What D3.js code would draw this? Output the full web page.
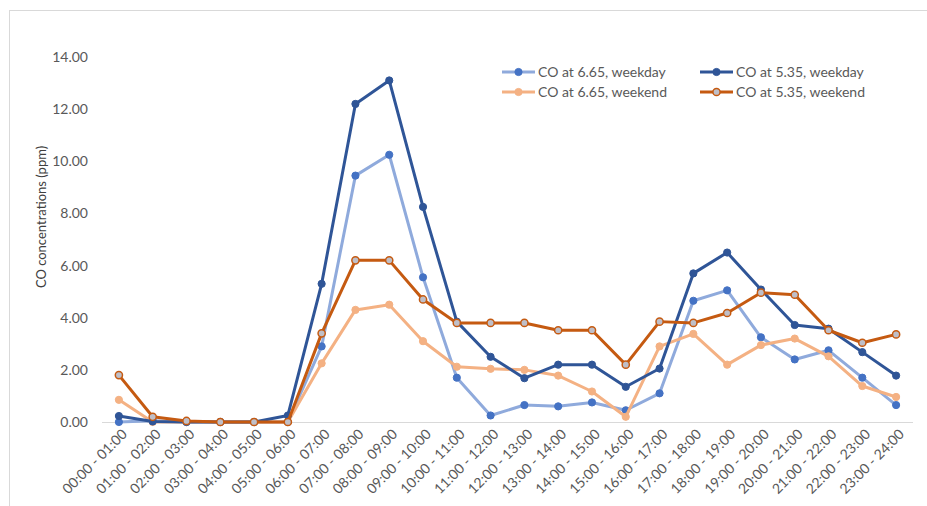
<!DOCTYPE html>
<html>
<head>
<meta charset="utf-8">
<script src="https://cdn.jsdelivr.net/npm/d3@7"></script>
<style>
  html, body { margin: 0; padding: 0; background: #fff; }
  svg { display: block; font-family: Lato, "Open Sans", sans-serif; }
</style>
</head>
<body>
<svg id="chart" width="927" height="506"></svg>
<script>
const categories = ["00:00 - 01:00","01:00 - 02:00","02:00 - 03:00","03:00 - 04:00","04:00 - 05:00","05:00 - 06:00",
  "06:00 - 07:00","07:00 - 08:00","08:00 - 09:00","09:00 - 10:00","10:00 - 11:00","11:00 - 12:00",
  "12:00 - 13:00","13:00 - 14:00","14:00 - 15:00","15:00 - 16:00","16:00 - 17:00","17:00 - 18:00",
  "18:00 - 19:00","19:00 - 20:00","20:00 - 21:00","21:00 - 22:00","22:00 - 23:00","23:00 - 24:00"];

const weekday665 = [0.0, 0.05, 0.0, 0.0, 0.0, 0.0, 2.9, 9.45, 10.25, 5.55, 1.7, 0.25, 0.65, 0.6, 0.75, 0.45, 1.1, 4.65, 5.05, 3.25, 2.4, 2.75, 1.7, 0.65];
const weekday535 = [0.23, 0.02, 0.0, 0.0, 0.0, 0.25, 5.3, 12.2, 13.1, 8.25, 3.85, 2.5, 1.68, 2.2, 2.2, 1.35, 2.05, 5.7, 6.5, 5.08, 3.72, 3.58, 2.68, 1.78];
const weekend665 = [0.85, 0.0, 0.0, 0.0, 0.0, 0.0, 2.25, 4.3, 4.5, 3.1, 2.12, 2.04, 2.0, 1.78, 1.17, 0.2, 2.9, 3.38, 2.2, 2.95, 3.2, 2.52, 1.38, 0.96];
const weekend535 = [1.8, 0.2, 0.04, 0.0, 0.0, 0.0, 3.4, 6.2, 6.2, 4.7, 3.8, 3.8, 3.8, 3.52, 3.52, 2.2, 3.85, 3.8, 4.18, 4.96, 4.88, 3.52, 3.04, 3.36];

const yTicks = [0, 2, 4, 6, 8, 10, 12, 14];
const seriesNames = ["CO at 6.65, weekday", "CO at 5.35, weekday", "CO at 6.65, weekend", "CO at 5.35, weekend"];

const series = [
  { name: seriesNames[0], values: weekday665, line: "#8faadc", fill: "#4472c4", stroke: "#4472c4", width: 3 },
  { name: seriesNames[1], values: weekday535, line: "#2f5597", fill: "#2f5597", stroke: "#2f5597", width: 3 },
  { name: seriesNames[2], values: weekend665, line: "#f4b183", fill: "#f4b183", stroke: "#f4b183", width: 3 },
  { name: seriesNames[3], values: weekend535, line: "#c55a11", fill: "#bfbfc8", stroke: "#c55a11", width: 3 }
];
const drawOrder = [0, 2, 1, 3];

const svg = d3.select("#chart");

// frame
svg.append("line").attr("x1", 9.5).attr("x2", 9.5).attr("y1", 10).attr("y2", 506).attr("stroke", "#d9d9d9").attr("stroke-width", 1);
svg.append("line").attr("x1", 9).attr("x2", 927).attr("y1", 10.5).attr("y2", 10.5).attr("stroke", "#d9d9d9").attr("stroke-width", 1);

const x = d3.scaleBand().domain(categories).range([102, 913]);
const y = d3.scaleLinear().domain([0, 14]).range([422, 57]);
const cx = d => x(d) + x.bandwidth() / 2;

// baseline
svg.append("line").attr("x1", 102).attr("x2", 913).attr("y1", y(0) + 0.5).attr("y2", y(0) + 0.5)
  .attr("stroke", "#d9d9d9").attr("stroke-width", 1);

// y axis labels
const yAxis = d3.axisLeft(y).tickValues(yTicks).tickFormat(d3.format(".2f")).tickSize(0).tickPadding(14);
const yg = svg.append("g").attr("transform", "translate(102,0)").call(yAxis);
yg.select(".domain").remove();
yg.selectAll("text").attr("fill", "#595959").style("font-size", "14px").style("font-family", "Lato, sans-serif");

// x axis labels
const xAxis = d3.axisBottom(x).tickSize(0).tickPadding(0);
const xg = svg.append("g").attr("transform", `translate(0,${y(0)})`).call(xAxis);
xg.select(".domain").remove();
xg.selectAll("text")
  .attr("fill", "#595959").style("font-size", "14px").style("font-family", "Lato, sans-serif")
  .attr("text-anchor", "end")
  .attr("dy", 0)
  .attr("transform", "translate(9,13) rotate(-45)");

// y title
svg.append("text")
  .attr("transform", "translate(46,217) rotate(-90)")
  .attr("text-anchor", "middle")
  .attr("fill", "#404040")
  .style("font-size", "13px").style("font-family", "Lato, sans-serif")
  .text("CO concentrations (ppm)");

// lines
const lineGen = vals => d3.line().x((d, i) => cx(categories[i])).y(d => y(d))(vals);
drawOrder.forEach(k => {
  const s = series[k];
  const g = svg.append("g");
  g.append("path").attr("d", lineGen(s.values)).attr("fill", "none")
    .attr("stroke", s.line).attr("stroke-width", s.width).attr("stroke-linejoin", "round");
  g.selectAll("circle").data(s.values).join("circle")
    .attr("cx", (d, i) => cx(categories[i])).attr("cy", d => y(d))
    .attr("r", 3.6).attr("fill", s.fill).attr("stroke", s.stroke).attr("stroke-width", k === 3 ? 1.5 : 1);
});

// legend
const legendPos = [[502, 72], [700, 72], [502, 92], [700, 92]];
series.forEach((s, k) => {
  const [lx, ly] = legendPos[k];
  const g = svg.append("g").attr("transform", `translate(${lx},${ly})`);
  g.append("line").attr("x1", 0).attr("x2", 33).attr("y1", 0).attr("y2", 0)
    .attr("stroke", s.line).attr("stroke-width", 3);
  g.append("circle").attr("cx", 16.5).attr("cy", 0).attr("r", 3.6)
    .attr("fill", s.fill).attr("stroke", s.stroke).attr("stroke-width", k === 3 ? 1.5 : 1);
  g.append("text").attr("x", 36).attr("y", 0).attr("dy", "0.35em")
    .attr("fill", "#595959").style("font-size", "14px").text(s.name);
});
</script>
</body>
</html>
